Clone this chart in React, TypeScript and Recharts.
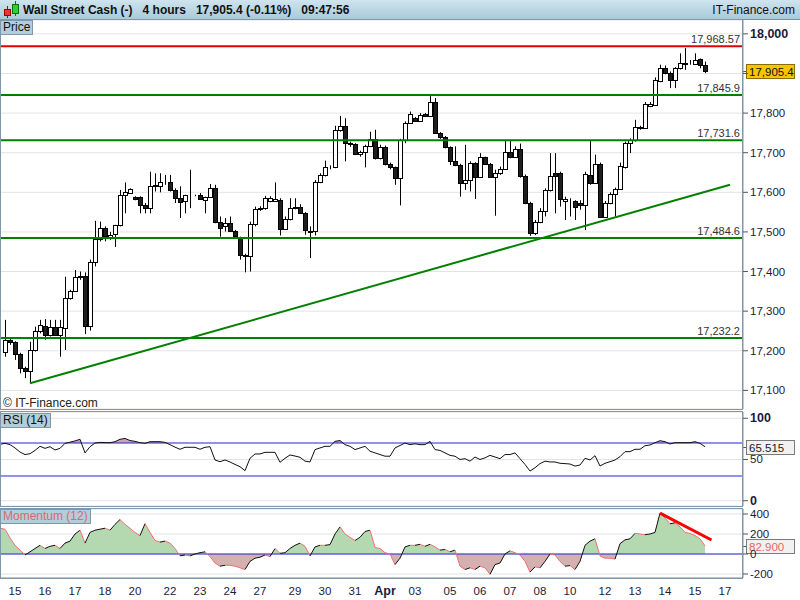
import React from 'react';
import { ComposedChart, Bar, Area, Line, XAxis, YAxis, CartesianGrid, ReferenceLine } from 'recharts';

// Wall Street Cash, 4h candles (15 Mar - 15 Apr)
const opens = [
  17198, 17228, 17222, 17191, 17156, 17150, 17201, 17251, 17263, 17239,
  17261, 17239, 17257, 17333, 17351, 17389, 17389, 17263, 17424, 17483,
  17509, 17487, 17495, 17517, 17592, 17598, 17588, 17588, 17567, 17560,
  17616, 17617, 17625, 17627, 17606, 17585, 17577, 17592, 17592, 17592,
  17581, 17589, 17610, 17525, 17514, 17522, 17503, 17484, 17442, 17440,
  17519, 17557, 17560, 17578, 17578, 17581, 17507, 17532, 17560, 17564,
  17547, 17503, 17503, 17627, 17644, 17663, 17663, 17758, 17768, 17724,
  17722, 17697, 17703, 17716, 17734, 17686, 17714, 17672, 17663, 17636,
  17732, 17774, 17787, 17781, 17798, 17793, 17829, 17749, 17739, 17714,
  17680, 17669, 17623, 17631, 17673, 17638, 17689, 17672, 17638, 17648,
  17658, 17701, 17690, 17709, 17640, 17573, 17497, 17526, 17554, 17605,
  17648, 17650, 17577, 17578, 17578, 17574, 17568, 17643, 17624, 17672,
  17537, 17573, 17596, 17608, 17664, 17724, 17733, 17765, 17762, 17817,
  17821, 17880, 17913, 17901, 17884, 17913, 17923, 17926, 17924, 17936,
  17922,
];
const highs = [
  17278, 17232, 17224, 17195, 17160, 17223, 17261, 17278, 17280, 17278,
  17278, 17278, 17387, 17354, 17404, 17400, 17398, 17430, 17528, 17526,
  17514, 17500, 17518, 17606, 17625, 17610, 17590, 17590, 17573, 17652,
  17648, 17648, 17644, 17644, 17610, 17615, 17594, 17657, 17594, 17598,
  17589, 17621, 17619, 17539, 17535, 17539, 17505, 17488, 17445, 17526,
  17564, 17565, 17591, 17590, 17625, 17585, 17539, 17585, 17585, 17570,
  17550, 17514, 17631, 17648, 17680, 17668, 17768, 17793, 17787, 17728,
  17724, 17705, 17720, 17753, 17758, 17720, 17718, 17675, 17665, 17735,
  17779, 17804, 17790, 17800, 17800, 17843, 17838, 17752, 17742, 17716,
  17716, 17672, 17720, 17678, 17676, 17699, 17690, 17674, 17657, 17665,
  17732, 17732, 17716, 17723, 17645, 17576, 17530, 17560, 17610, 17699,
  17699, 17652, 17589, 17585, 17580, 17580, 17652, 17732, 17695, 17675,
  17578, 17600, 17612, 17675, 17728, 17736, 17783, 17768, 17828, 17828,
  17890, 17922, 17920, 17905, 17916, 17951, 17964, 17934, 17951, 17938,
  17930,
];
const lows = [
  17185, 17215, 17177, 17143, 17131, 17118, 17198, 17244, 17228, 17236,
  17239, 17185, 17202, 17329, 17350, 17379, 17242, 17251, 17413, 17476,
  17476, 17480, 17462, 17514, 17547, 17598, 17580, 17547, 17547, 17547,
  17602, 17600, 17619, 17602, 17573, 17535, 17547, 17560, 17590, 17581,
  17547, 17588, 17522, 17488, 17501, 17501, 17487, 17430, 17398, 17400,
  17514, 17553, 17556, 17575, 17577, 17491, 17505, 17529, 17557, 17545,
  17493, 17434, 17491, 17623, 17640, 17658, 17661, 17753, 17678, 17715,
  17694, 17690, 17663, 17714, 17683, 17683, 17668, 17658, 17619, 17567,
  17724, 17773, 17778, 17778, 17790, 17791, 17748, 17735, 17711, 17669,
  17666, 17589, 17606, 17602, 17583, 17636, 17669, 17636, 17541, 17644,
  17657, 17686, 17690, 17637, 17570, 17490, 17492, 17522, 17539, 17602,
  17547, 17564, 17530, 17539, 17530, 17556, 17505, 17619, 17621, 17535,
  17535, 17570, 17539, 17606, 17660, 17699, 17728, 17758, 17760, 17815,
  17818, 17878, 17898, 17863, 17863, 17910, 17909, 17922, 17922, 17913,
  17901,
];
const closes = [
  17228, 17222, 17191, 17156, 17148, 17201, 17251, 17264, 17239, 17261,
  17239, 17261, 17333, 17351, 17387, 17385, 17263, 17424, 17483, 17509,
  17490, 17493, 17517, 17592, 17600, 17608, 17584, 17567, 17560, 17616,
  17619, 17626, 17627, 17606, 17585, 17575, 17592, 17592, 17592, 17584,
  17588, 17610, 17525, 17509, 17522, 17503, 17490, 17442, 17438, 17519,
  17557, 17560, 17585, 17585, 17582, 17507, 17532, 17560, 17564, 17547,
  17505, 17501, 17627, 17644, 17663, 17663, 17758, 17768, 17724, 17721,
  17697, 17703, 17716, 17734, 17686, 17714, 17672, 17663, 17636, 17732,
  17774, 17798, 17781, 17795, 17793, 17829, 17749, 17739, 17714, 17680,
  17669, 17623, 17631, 17673, 17638, 17689, 17672, 17638, 17648, 17658,
  17701, 17690, 17709, 17640, 17573, 17497, 17526, 17554, 17605, 17640,
  17640, 17583, 17583, 17578, 17564, 17567, 17645, 17624, 17672, 17537,
  17573, 17596, 17608, 17667, 17724, 17733, 17765, 17762, 17823, 17823,
  17884, 17913, 17901, 17884, 17913, 17926, 17926, 17926, 17934, 17922,
  17905.4,
];

// levels drawn on the price panel
const resistance = 17968.57;
const supports = [17845.9, 17731.6, 17484.6, 17232.2];
const trendStart = { i: 5, v: 17118 };
const trendEnd = { i: 145, v: 17619 };
const lastPrice = 17905.4;
const priceTicks = [17100, 17200, 17300, 17400, 17500, 17600, 17700, 17800, 17900, 18000];

// indicators start one bar before the first candle
const rsi = [
  68.4, 69.6, 68, 64, 59, 56, 57, 61, 66, 63.5,
  65.5, 61.5, 63.5, 69.6, 71, 72.5, 74.5, 58, 65.5, 70,
  70.8, 70.5, 70.4, 71.6, 74.5, 75.5, 73, 72, 70.4, 69.6,
  71.6, 71.6, 71.6, 70.8, 68, 65, 62.4, 64.8, 64.8, 64.8,
  62.4, 64.8, 65.5, 49.4, 47.3, 49.4, 47, 44, 41.3, 36.5,
  51.5, 56.7, 56.7, 58.7, 58.7, 58.7, 46.6, 51.5, 55.5, 54.2,
  52.7, 48, 47, 62, 64, 66, 66, 72, 73, 68,
  66, 62, 64, 66, 60, 58, 56, 54, 54, 64,
  67, 70, 68, 69, 68, 68, 72, 62, 61, 58,
  55, 54, 50, 51, 48, 53, 50, 52, 55, 53,
  51, 56, 56, 58, 51, 44, 36, 40, 45, 48,
  47, 47, 45.4, 45, 44.5, 42, 43.3, 51.5, 49.4, 54.6,
  42.1, 45.4, 47.3, 49.4, 53.4, 59.5, 59.5, 62.4, 62.4, 66.7,
  67.6, 70.4, 72.8, 71.6, 68.8, 70.4, 70.4, 70.4, 70.4, 71.6,
  69.6, 65.515,
];
const momentum = [
  258, 248, 161, 87, 39, -10, 22, 55, 87, 55,
  77, 87, 55, 109, 129, 200, 238, 109, 216, 238,
  248, 258, 238, 296, 345, 296, 258, 216, 184, 303,
  216, 135, 119, 129, 109, 55, -19, -10, -19, 0,
  13, 22, -26, -90, -122, -113, -113, -122, -138, -155,
  -74, -42, -32, -10, -26, 55, 7, 13, 55, 87,
  109, 77, -19, 71, 87, 87, 94, 200, 271, 200,
  167, 135, 167, 225, 238, 65, 55, 13, 0, -106,
  -42, 71, 87, 87, 97, 77, 97, 71, 39, 45,
  22, 39, -122, -155, -138, -155, -122, -138, -203, -106,
  -90, 0, 32, 13, -10, -74, -181, -129, -138, -74,
  0, -10, -74, -122, -116, -155, -74, 87, 129, 152,
  -19, -42, -42, -51, 103, 142, 152, 206, 200, 193,
  200, 216, 409, 360, 302, 312, 271, 216, 206, 184,
  152, 82.9,
];
const momTrendStart = { i: 131, v: 409 };
const momTrendEnd = { i: 141.3, v: 140 };

const dayTicks = [2, 8, 14, 20, 26, 33, 39, 45, 51, 58, 64, 70, 76, 82, 89, 95, 101, 107, 113, 120, 126, 132, 138, 144];
const dayLabels = ['15', '16', '17', '18', '20', '22', '23', '24', '27', '29', '30', '31', 'Apr', '03', '05', '06', '07', '08', '10', '12', '13', '14', '15', '17'];

const FONT = '"Liberation Sans", Arial, sans-serif';
const FRAME = '#8097a9';
const TXT = '#1b1b3a';
const X_DOMAIN: [number, number] = [-1, 147.6];

const candles = opens.map((o, i) => ({ i, o, h: highs[i], l: lows[i], c: closes[i], hl: [lows[i], highs[i]] }));
const rsiRows = rsi.map((v, k) => ({ i: k - 1, v }));
const momRows = momentum.map((v, k) => ({ i: k - 1, v }));

const rsiMax = Math.max(...rsi);
const rsiMin = Math.min(...rsi);
const rsiSplit = (rsiMax - 70) / (rsiMax - rsiMin);
const momMax = Math.max(...momentum);
const momMin = Math.min(...momentum);
const momSplit = momMax / (momMax - momMin);

function Candle(props: any) {
  const { x, y, width, height, payload } = props;
  if (!payload || height == null) return null;
  const { o, h, l, c } = payload;
  const top = Math.min(y, y + height);
  const span = Math.abs(height);
  const at = (v: number) => top + (h === l ? 0 : ((h - v) / (h - l)) * span);
  const px = Math.round(x + width / 2);
  const bTop = Math.round(at(Math.max(o, c))) + 0.5;
  const bBot = Math.round(at(Math.min(o, c))) + 0.5;
  return (
    <g>
      <line x1={px + 0.5} x2={px + 0.5} y1={top} y2={top + span} stroke="#000" />
      <rect x={px - 1.5} y={bTop} width={4} height={bBot - bTop} fill={c >= o ? '#fff' : '#1e1e1e'} stroke="#000" />
    </g>
  );
}

const levelLabel = (text: string) => (p: any) => {
  const vb = p.viewBox;
  return (
    <text x={vb.x + vb.width - 3} y={vb.y - 3} textAnchor="end" fontSize={11} fill="#333" fontFamily={FONT}>
      {text}
    </text>
  );
};

const valueBox = (text: string, fill: string, stroke: string, color: string) => (p: any) => {
  const { x, y, width } = p.viewBox;
  const left = x + width;
  const cy = Math.round(y);
  return (
    <g>
      <line x1={left} x2={left + 5} y1={cy + 0.5} y2={cy + 0.5} stroke="#555" />
      <rect x={left + 3.5} y={cy - 6.5} width={48} height={14} fill={fill} stroke={stroke} />
      <text x={left + 6} y={cy + 4.5} fontSize={11.5} fill={color} fontFamily={FONT}>
        {text}
      </text>
    </g>
  );
};

const PriceTick = (p: any) => {
  const v = p.payload.value;
  if (Math.abs(v - lastPrice) < 25) return null;
  const bold = v === 18000;
  return (
    <text x={p.x} y={p.y + 4} fontSize={bold ? 12.5 : 11.5} fontWeight={bold ? 'bold' : 'normal'} fill={TXT} fontFamily={FONT}>
      {v.toLocaleString('en-US')}
    </text>
  );
};

const RsiTick = (p: any) => {
  const v = p.payload.value;
  const bold = v !== 50;
  return (
    <text x={p.x} y={p.y + 4} fontSize={bold ? 12.5 : 11.5} fontWeight={bold ? 'bold' : 'normal'} fill={TXT} fontFamily={FONT}>
      {v}
    </text>
  );
};

const MomTick = (p: any) => (
  <text x={p.x} y={p.y + 4} fontSize={11.5} fill={TXT} fontFamily={FONT}>
    {p.payload.value}
  </text>
);

const DayTick = (p: any) => {
  const label = dayLabels[dayTicks.indexOf(p.payload.value)];
  const bold = label === 'Apr';
  return (
    <text x={p.x} y={p.y + 17} textAnchor="middle" fontSize={bold ? 12.5 : 11.5} fontWeight={bold ? 'bold' : 'normal'} fill={TXT} fontFamily={FONT}>
      {label}
    </text>
  );
};

const tagStyle: React.CSSProperties = {
  position: 'absolute',
  background: '#b3cedb',
  border: `1px solid ${FRAME}`,
  fontSize: 12,
  lineHeight: '13px',
  padding: '0 2px',
  fontFamily: FONT,
  color: '#111',
};

export default function App() {
  return (
    <div style={{ position: 'absolute', left: 0, top: 0, width: 800, height: 600, background: '#fff', overflow: 'hidden', fontFamily: FONT }}>
      <style>{'.recharts-surface{overflow:visible}'}</style>
      {/* title bar */}
      <div
        style={{
          position: 'absolute', left: 0, top: 0, width: 800, height: 19,
          background: 'linear-gradient(#cfe4ee, #a9cadb)', borderBottom: '1px solid #7893a5',
        }}
      >
        <svg width={20} height={19} style={{ position: 'absolute', left: 2, top: 0 }}>
          <line x1={5.5} x2={5.5} y1={6} y2={18} stroke="#a00" />
          <rect x={2.5} y={9.5} width={6} height={6} fill="#e33" stroke="#900" />
          <line x1={13.5} x2={13.5} y1={1} y2={16} stroke="#070" />
          <rect x={10.5} y={4.5} width={6} height={9} fill="#3c3" stroke="#070" />
        </svg>
        <div style={{ position: 'absolute', left: 23, top: 3, fontSize: 12, fontWeight: 'bold', whiteSpace: 'pre', color: '#111' }}>
          {'Wall Street Cash (-)   4 hours   17,905.4 (-0.11%)   09:47:56'}
        </div>
        <div style={{ position: 'absolute', right: 5, top: 3, fontSize: 12, color: '#111' }}>IT-Finance.com</div>
      </div>

      {/* price panel */}
      <div style={{ position: 'absolute', left: 0, top: 20 }}>
        <ComposedChart width={800} height={389} data={candles} margin={{ top: 0, right: 0, bottom: 0, left: 0 }}>
          <CartesianGrid vertical={false} stroke="#e3e3e3" />
          <XAxis type="number" dataKey="i" domain={X_DOMAIN} allowDataOverflow hide />
          <YAxis
            orientation="right" width={57} type="number" domain={[17053, 18035]} allowDataOverflow
            ticks={priceTicks} interval={0} tick={<PriceTick />} tickSize={5} tickMargin={2}
            tickLine={{ stroke: '#555' }} axisLine={{ stroke: FRAME }}
          />
          <Bar dataKey="hl" barSize={5} shape={<Candle />} isAnimationActive={false} />
          <ReferenceLine y={resistance} stroke="#e00000" strokeWidth={2} label={levelLabel('17,968.57')} />
          {supports.map((s) => (
            <ReferenceLine key={s} y={s} stroke="#008000" strokeWidth={2} label={levelLabel(s.toLocaleString('en-US', { minimumFractionDigits: 1 }))} />
          ))}
          <ReferenceLine
            segment={[{ x: trendStart.i, y: trendStart.v }, { x: trendEnd.i, y: trendEnd.v }]}
            stroke="#008000" strokeWidth={2}
          />
          <ReferenceLine y={lastPrice} stroke="none" label={valueBox('17,905.4', '#f6c600', '#8a6d00', '#111')} />
        </ComposedChart>
      </div>
      <div style={{ ...tagStyle, left: 0, top: 20 }}>Price</div>
      <div style={{ position: 'absolute', left: 3, top: 396, fontSize: 12, color: '#222' }}>© IT-Finance.com</div>

      {/* RSI panel */}
      <div style={{ position: 'absolute', left: 0, top: 412 }}>
        <ComposedChart width={800} height={94} data={rsiRows} margin={{ top: 0, right: 0, bottom: 0, left: 0 }}>
          <defs>
            <linearGradient id="rsiHot" x1="0" y1="0" x2="0" y2="1">
              <stop offset={0} stopColor="#cfa3ac" />
              <stop offset={rsiSplit} stopColor="#cfa3ac" />
              <stop offset={rsiSplit} stopColor="#fff" stopOpacity={0} />
              <stop offset={1} stopColor="#fff" stopOpacity={0} />
            </linearGradient>
          </defs>
          <CartesianGrid vertical={false} stroke="#e3e3e3" />
          <XAxis type="number" dataKey="i" domain={X_DOMAIN} allowDataOverflow hide />
          <YAxis
            orientation="right" width={57} type="number" domain={[-6.4, 107.6]} allowDataOverflow
            ticks={[0, 50, 100]} interval={0} tick={<RsiTick />} tickSize={5} tickMargin={2}
            tickLine={{ stroke: '#555' }} axisLine={{ stroke: FRAME }}
          />
          <Area type="linear" dataKey="v" baseValue={70} stroke="none" fill="url(#rsiHot)" fillOpacity={1} isAnimationActive={false} />
          <ReferenceLine y={70} stroke="#2424d8" />
          <ReferenceLine y={30} stroke="#2424d8" />
          <Line type="linear" dataKey="v" stroke="#111" strokeWidth={1} dot={false} isAnimationActive={false} />
          <ReferenceLine y={rsi[rsi.length - 1]} stroke="none" label={valueBox('65.515', '#f1f1f1', '#7a7a7a', '#222')} />
        </ComposedChart>
      </div>
      <div style={{ ...tagStyle, left: 0, top: 413 }}>RSI (14)</div>

      {/* Momentum panel */}
      <div style={{ position: 'absolute', left: 0, top: 509 }}>
        <ComposedChart width={800} height={91} data={momRows} margin={{ top: 0, right: 0, bottom: 0, left: 0 }}>
          <defs>
            <linearGradient id="momFill" x1="0" y1="0" x2="0" y2="1">
              <stop offset={0} stopColor="#b4d9b1" />
              <stop offset={momSplit} stopColor="#b4d9b1" />
              <stop offset={momSplit} stopColor="#d5b0b1" />
              <stop offset={1} stopColor="#d5b0b1" />
            </linearGradient>
          </defs>
          <CartesianGrid vertical={false} stroke="#e3e3e3" />
          <XAxis
            type="number" dataKey="i" domain={X_DOMAIN} allowDataOverflow height={22}
            ticks={dayTicks} interval={0} tick={<DayTick />} tickSize={0} tickMargin={0}
            tickLine={false} axisLine={{ stroke: FRAME }}
          />
          <YAxis
            orientation="right" width={57} type="number" domain={[-240, 450]} allowDataOverflow
            ticks={[-200, 0, 200, 400]} interval={0} tick={<MomTick />} tickSize={5} tickMargin={2}
            tickLine={{ stroke: '#555' }} axisLine={{ stroke: FRAME }}
          />
          <Area type="linear" dataKey="v" baseValue={0} stroke="none" fill="url(#momFill)" fillOpacity={1} isAnimationActive={false} />
          <ReferenceLine y={0} stroke="#2424d8" />
          {momRows.slice(1).map((r, k) => (
            <ReferenceLine
              key={r.i}
              segment={[{ x: momRows[k].i, y: momRows[k].v }, { x: r.i, y: r.v }]}
              stroke={r.v > momRows[k].v ? '#111' : '#f07070'}
              strokeWidth={1}
            />
          ))}
          <ReferenceLine
            segment={[{ x: momTrendStart.i, y: momTrendStart.v }, { x: momTrendEnd.i, y: momTrendEnd.v }]}
            stroke="#ff0000" strokeWidth={3}
          />
          <ReferenceLine y={momentum[momentum.length - 1]} stroke="none" label={valueBox('82.900', '#f1f1f1', '#7a7a7a', '#e06868')} />
        </ComposedChart>
      </div>
      <div style={{ ...tagStyle, left: 0, top: 509, color: '#d86a6a' }}>Momentum (12)</div>

      {/* panel frames */}
      <div style={{ position: 'absolute', left: 0, top: 19, width: 743, height: 391, border: `1px solid ${FRAME}`, boxSizing: 'border-box', pointerEvents: 'none' }} />
      <div style={{ position: 'absolute', left: 0, top: 411, width: 743, height: 96, border: `1px solid ${FRAME}`, boxSizing: 'border-box', pointerEvents: 'none' }} />
      <div style={{ position: 'absolute', left: 0, top: 508, width: 743, height: 71, border: `1px solid ${FRAME}`, boxSizing: 'border-box', pointerEvents: 'none' }} />
    </div>
  );
}
